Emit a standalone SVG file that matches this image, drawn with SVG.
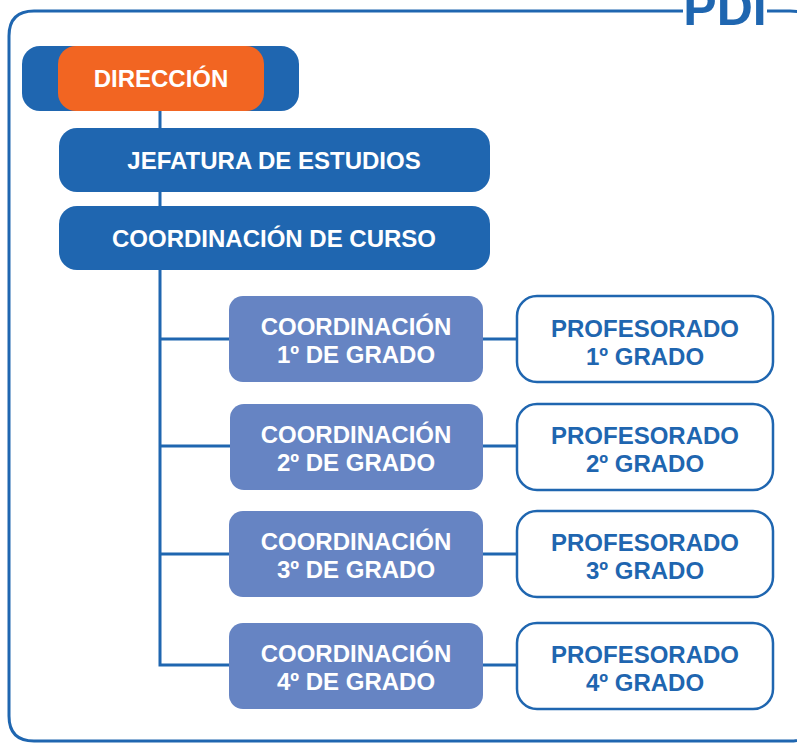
<svg xmlns="http://www.w3.org/2000/svg" width="797" height="743" viewBox="0 0 797 743">
<style>
.t{font-family:"Liberation Sans",Arial,sans-serif;font-weight:bold;font-size:24px;text-anchor:middle}
.w{fill:#ffffff}
.b{fill:#1f66b0}
.dark{fill:#1f66b0}
.light{fill:#6684c3}
.prof{fill:#ffffff;stroke:#1f66b0;stroke-width:2.5}
.ln{stroke:#1f66b0;stroke-width:3;fill:none}
</style>
<rect width="797" height="743" fill="#ffffff"/>
<g id="frame">
<path class="ln" d="M683,11 H34 Q9,11 9,36 V716 Q9,741 34,741 H790 Q815,741 815,716 V36 Q815,11 790,11 H767" stroke-width="2.5"/>
<text x="725" y="25" class="t b" style="font-size:50px">PDI</text>
</g>
<g id="connectors">
<path class="ln" d="M160,111 V665 H230"/>
<path class="ln" d="M160,339 H230 M160,446 H230 M160,554 H230"/>
<path class="ln" d="M483,339 H517 M483,446 H517 M483,554 H517 M483,665 H517"/>
</g>
<g id="direccion">
<rect x="22" y="46" width="277" height="65" rx="18" class="dark"/>
<rect x="58" y="46" width="206" height="65" rx="18" fill="#f26522"/>
<text x="161" y="87" class="t w">DIRECCIÓN</text>
</g>
<g id="jefatura">
<rect x="59" y="128" width="431" height="64" rx="18" class="dark"/>
<text x="274" y="169" class="t w">JEFATURA DE ESTUDIOS</text>
</g>
<g id="coord-curso">
<rect x="59" y="206" width="431" height="64" rx="18" class="dark"/>
<text x="274" y="247" class="t w">COORDINACIÓN DE CURSO</text>
</g>
<g id="coord1">
<rect x="229" y="296" width="254" height="86" rx="14" class="light"/>
<text x="356" y="335" class="t w">COORDINACIÓN</text>
<text x="356" y="363" class="t w">1º DE GRADO</text>
</g>
<g id="coord2">
<rect x="230" y="404" width="253" height="86" rx="14" class="light"/>
<text x="356" y="443" class="t w">COORDINACIÓN</text>
<text x="356" y="471" class="t w">2º DE GRADO</text>
</g>
<g id="coord3">
<rect x="229" y="511" width="254" height="86" rx="14" class="light"/>
<text x="356" y="550" class="t w">COORDINACIÓN</text>
<text x="356" y="578" class="t w">3º DE GRADO</text>
</g>
<g id="coord4">
<rect x="229" y="623" width="254" height="86" rx="14" class="light"/>
<text x="356" y="662" class="t w">COORDINACIÓN</text>
<text x="356" y="690" class="t w">4º DE GRADO</text>
</g>
<g id="prof1">
<rect x="517" y="296" width="256" height="86" rx="20" class="prof"/>
<text x="645" y="337" class="t b">PROFESORADO</text>
<text x="645" y="365" class="t b">1º GRADO</text>
</g>
<g id="prof2">
<rect x="517" y="404" width="256" height="86" rx="20" class="prof"/>
<text x="645" y="444" class="t b">PROFESORADO</text>
<text x="645" y="472" class="t b">2º GRADO</text>
</g>
<g id="prof3">
<rect x="517" y="511" width="256" height="86" rx="20" class="prof"/>
<text x="645" y="551" class="t b">PROFESORADO</text>
<text x="645" y="579" class="t b">3º GRADO</text>
</g>
<g id="prof4">
<rect x="517" y="623" width="256" height="86" rx="20" class="prof"/>
<text x="645" y="663" class="t b">PROFESORADO</text>
<text x="645" y="691" class="t b">4º GRADO</text>
</g>
</svg>
